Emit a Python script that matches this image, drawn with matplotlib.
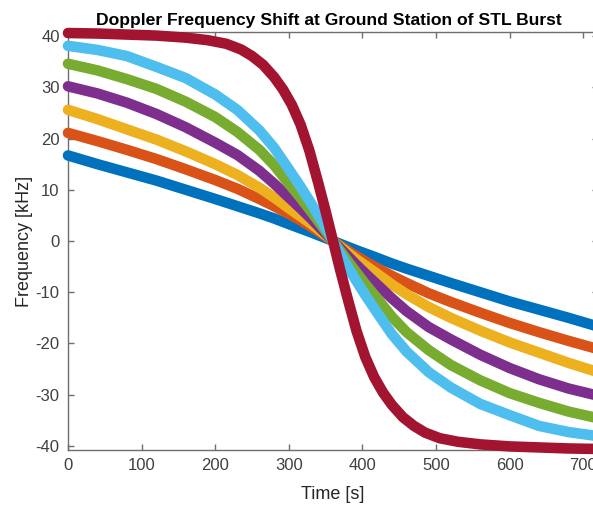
import numpy as np
import matplotlib
matplotlib.use("Agg")
from matplotlib import pyplot as plt

plt.rcParams['font.family'] = ['Liberation Sans', 'DejaVu Sans']
plt.rcParams['axes.unicode_minus'] = False

# time samples [s]
t = [0, 40, 80, 120, 160, 200, 230, 260, 280, 300, 315, 330, 345, 360,
     375, 390, 405, 420, 440, 460, 490, 520, 560, 600, 640, 680, 720]

# doppler shift [kHz], one list per pass
f1 = [16.7, 15.0, 13.4, 11.8, 10.0, 8.2, 6.8, 5.4, 4.4, 3.3, 2.5, 1.7, 0.85, 0,
      -0.85, -1.7, -2.5, -3.3, -4.4, -5.4, -6.8, -8.2, -10.0, -11.8, -13.4, -15.0, -16.7]
f2 = [21.1, 19.5, 17.8, 16.0, 14.0, 11.9, 10.2, 8.2, 6.8, 5.3, 4.1, 2.8, 1.4, 0,
      -1.4, -2.8, -4.1, -5.3, -6.8, -8.2, -10.2, -11.9, -14.0, -16.0, -17.8, -19.5, -21.1]
f3 = [25.6, 23.8, 21.8, 19.8, 17.5, 15.0, 12.9, 10.4, 8.5, 6.4, 4.9, 3.4, 1.7, 0,
      -1.7, -3.4, -4.9, -6.4, -8.5, -10.4, -12.9, -15.0, -17.5, -19.8, -21.8, -23.8, -25.6]
f4 = [30.2, 28.8, 27.0, 24.8, 22.2, 19.2, 16.8, 13.7, 11.2, 8.5, 6.5, 4.4, 2.2, 0,
      -2.2, -4.4, -6.5, -8.5, -11.2, -13.7, -16.8, -19.2, -22.2, -24.8, -27.0, -28.8, -30.2]
f5 = [34.6, 33.3, 31.6, 29.7, 27.2, 24.2, 21.3, 17.8, 14.8, 11.2, 8.6, 5.8, 2.9, 0,
      -2.9, -5.8, -8.6, -11.2, -14.8, -17.8, -21.3, -24.2, -27.2, -29.7, -31.6, -33.3, -34.6]
f6 = [38.1, 37.3, 36.1, 34.0, 31.8, 28.6, 25.6, 21.6, 18.2, 14.0, 10.8, 7.4, 3.8, 0,
      -3.8, -7.4, -10.8, -14.0, -18.2, -21.6, -25.6, -28.6, -31.8, -34.0, -36.1, -37.3, -38.1]

# steepest pass, sampled finer around the zero crossing
t7 = [0, 40, 80, 120, 160, 190, 215, 235, 250, 265, 280, 292, 304, 316, 328, 340, 350, 360,
      370, 380, 392, 404, 416, 428, 440, 455, 470, 485, 505, 530, 560, 600, 640, 680, 720]
f7 = [40.6, 40.5, 40.3, 40.1, 39.7, 39.2, 38.5, 37.4, 36.1, 34.4, 32.0, 29.6, 26.6, 22.7,
      17.6, 11.3, 5.8, 0,
      -5.8, -11.3, -17.6, -22.7, -26.6, -29.6, -32.0, -34.4, -36.1, -37.4, -38.5, -39.2,
      -39.7, -40.1, -40.3, -40.5, -40.6]

series = [(t, f1), (t, f2), (t, f3), (t, f4), (t, f5), (t, f6), (t7, f7)]
colors = ['#0072BD', '#D95319', '#EDB120', '#7E2F8E', '#77AC30', '#4DBEEE', '#A2142F']

fig = plt.figure(figsize=(5.93, 5.05), dpi=100)
ax = fig.add_axes([68/593, 55/505, 530/593, 418/505])

for (tt, f), c in zip(series, colors):
    ax.plot(tt, f, color=c, lw=7.6, solid_capstyle='round', solid_joinstyle='round',
            clip_on=False, zorder=3)

ax.set_xlim(0, 720)
ax.set_ylim(-40.8, 40.8)
ax.set_xticks(np.arange(0, 800, 100))
ax.set_yticks(np.arange(-40, 50, 10))

for s in ax.spines.values():
    s.set_color('#6e6e6e')
    s.set_linewidth(1.0)
ax.tick_params(direction='in', top=True, right=True, length=4, width=1,
               color='#6e6e6e', labelcolor='#404040', labelsize=12, pad=6)

ax.set_xlabel('Time [s]', fontsize=13, color='#262626', labelpad=9)
ax.set_ylabel('Frequency [kHz]', fontsize=13, color='#262626', labelpad=2)
t_obj = ax.set_title('Doppler Frequency Shift at Ground Station of STL Burst',
                     fontsize=12.6, fontweight='bold', color='black', pad=5)
t_obj.set_x(0.492)

fig.savefig('out.png', dpi=100)
